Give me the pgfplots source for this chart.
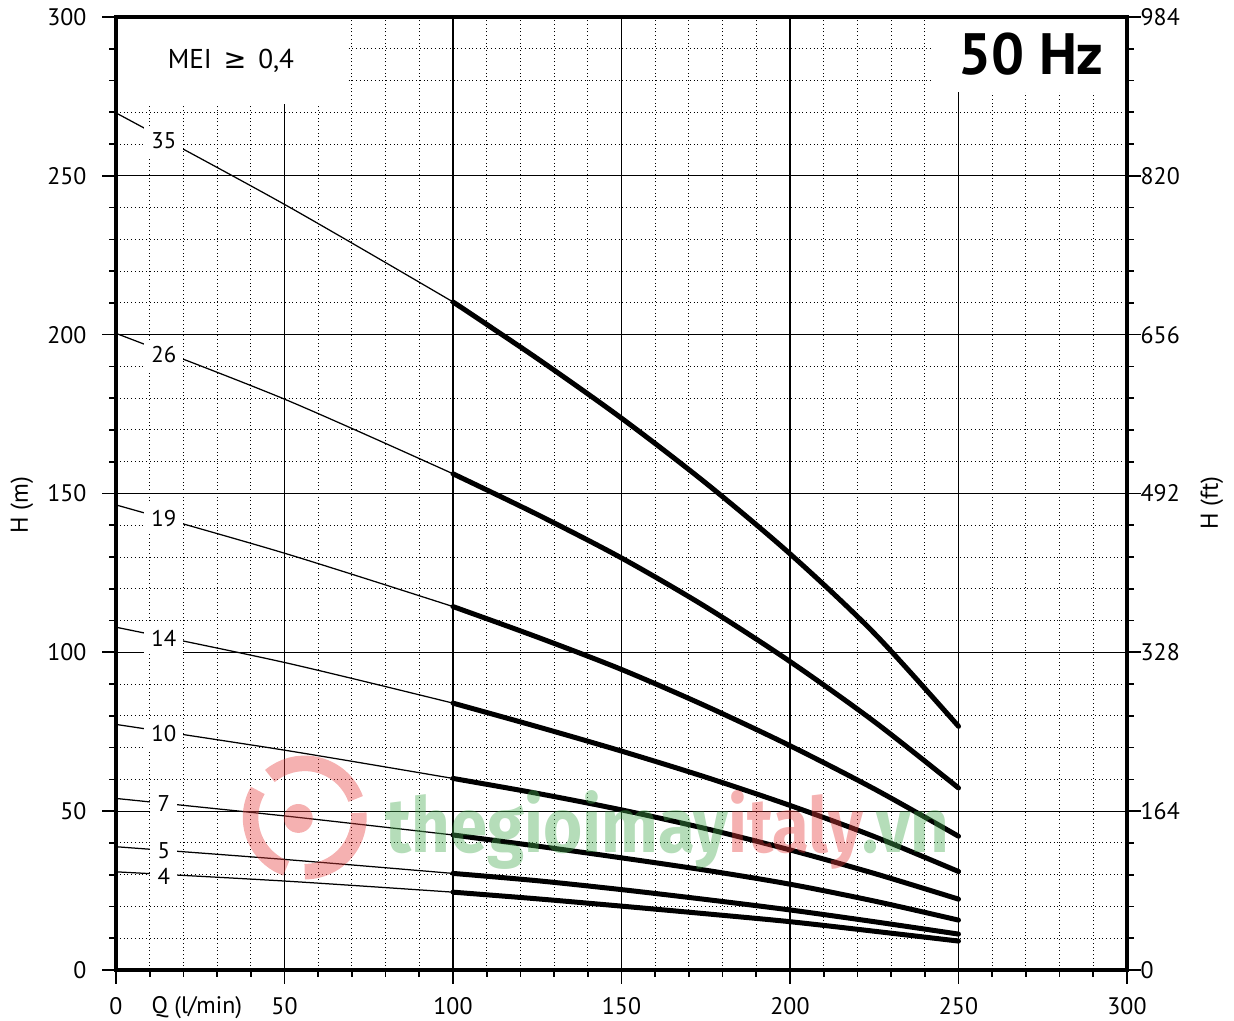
\documentclass[border=0pt]{standalone}
\usepackage{pgfplots}
\pgfplotsset{compat=1.18}
\usepackage{fontspec}
\setmainfont{PT Sans}
\newfontfamily\symfont{DejaVu Sans}
\newfontfamily\wmfont{Fira Sans}
\definecolor{wmgreen}{RGB}{70,170,80}
\definecolor{wmred}{RGB}{230,60,60}
\begin{document}
\begin{tikzpicture}
\pgfplotsset{
  base/.style={
    scale only axis, width=363.96pt, height=343.08pt,
    xmin=0, xmax=300, ymin=0, ymax=300,
    tick align=outside,
    major tick length=5pt, minor tick length=2.5pt,
    tick style={black, line width=0.6pt},
    axis line style={line width=1.2pt},
    tick label style={font=\fontsize{8.6}{10}\selectfont},
    /pgf/number format/assume math mode=true,
  },
}
\begin{axis}[
  base, name=ax,
  xtick={0,50,...,300}, ytick={0,50,...,300},
  minor x tick num=4, minor y tick num=4,
  tick pos=left,
  grid=both,
  major grid style={black, line width=0.4pt},
  minor grid style={black, line width=0.35pt, densely dotted},
  xticklabel style={anchor=base, yshift=-11pt},
  yticklabel style={anchor=east, xshift=-2.1pt},
  clip=false,
]
% white boxes over the grid
\fill[white] ([xshift=0.65pt]axis cs:0,272.6) rectangle ([yshift=-0.65pt]axis cs:68.5,300);
\fill[white] (axis cs:241.8,276.4) rectangle ([xshift=-0.65pt,yshift=-0.65pt]axis cs:300,300);

% thin extensions (0-100)
\addplot[black, line width=0.45pt, smooth] coordinates {(0,269.8) (50,241.0) (100,210.3)};
\addplot[black, line width=0.45pt, smooth] coordinates {(0,200.4) (50,179.7) (100,156.2)};
\addplot[black, line width=0.45pt, smooth] coordinates {(0,146.4) (50,131.2) (100,114.4)};
\addplot[black, line width=0.45pt, smooth] coordinates {(0,107.9) (50,96.8) (100,84.0)};
\addplot[black, line width=0.45pt, smooth] coordinates {(0,77.3) (50,69.2) (100,60.3)};
\addplot[black, line width=0.45pt, smooth] coordinates {(0,54.0) (50,48.5) (100,42.5)};
\addplot[black, line width=0.45pt, smooth] coordinates {(0,38.8) (50,34.8) (100,30.4)};
\addplot[black, line width=0.45pt, smooth] coordinates {(0,30.9) (50,28.0) (100,24.5)};

% thick curves (100-250)
\addplot[black, line width=1.8pt, line cap=round, smooth] coordinates {(100,210.3) (125,192.5) (150,173.7) (175,153.3) (200,131.0) (225,106.0) (250,76.7)};
\addplot[black, line width=1.8pt, line cap=round, smooth] coordinates {(100,156.2) (125,143.4) (150,129.7) (175,114.3) (200,97.1) (225,78.2) (250,57.3)};
\addplot[black, line width=1.8pt, line cap=round, smooth] coordinates {(100,114.4) (125,104.8) (150,94.6) (175,83.1) (200,70.6) (225,57.0) (250,42.1)};
\addplot[black, line width=1.8pt, line cap=round, smooth] coordinates {(100,84.0) (125,76.6) (150,68.9) (175,60.7) (200,51.8) (225,42.0) (250,31.0)};
\addplot[black, line width=1.8pt, line cap=round, smooth] coordinates {(100,60.3) (125,55.6) (150,50.4) (175,44.5) (200,37.8) (225,30.4) (250,22.3)};
\addplot[black, line width=1.8pt, line cap=round, smooth] coordinates {(100,42.5) (125,39.0) (150,35.3) (175,31.4) (200,27.0) (225,21.7) (250,15.7)};
\addplot[black, line width=1.8pt, line cap=round, smooth] coordinates {(100,30.4) (125,28.1) (150,25.3) (175,22.2) (200,18.9) (225,15.2) (250,11.3)};
\addplot[black, line width=1.8pt, line cap=round, smooth] coordinates {(100,24.5) (125,22.4) (150,20.1) (175,17.7) (200,15.2) (225,12.2) (250,9.1)};

% curve labels
\tikzset{clab/.style={fill=white, inner xsep=2.6pt, inner ysep=2.4pt, font=\fontsize{8.2}{9}\selectfont}}
\node[clab] at (axis cs:14.2,261) {35};
\node[clab] at (axis cs:14.2,193.6) {26};
\node[clab] at (axis cs:14.2,142) {19};
\node[clab] at (axis cs:14.2,104.5) {14};
\node[clab] at (axis cs:14.2,74.3) {10};
\node[clab] at (axis cs:14.2,52.3) {7};
\node[clab] at (axis cs:14.2,37.5) {5};
\node[clab] at (axis cs:14.2,29.6) {4};

% header texts
\node[font=\fontsize{9.8}{11}\selectfont] at (axis cs:34.1,286.1) {MEI\, {\symfont ≥}\, 0,4};
\node[font=\fontsize{21}{24}\selectfont\bfseries] at (axis cs:271.5,288.3) {50 Hz};

% axis labels
\node[rotate=90, font=\fontsize{8.8}{10}\selectfont] at (rel axis cs:-0.093,0.488) {H (m)};
\node[rotate=90, font=\fontsize{8.8}{10}\selectfont] at (rel axis cs:1.084,0.49) {H (ft)};
\node[anchor=base, font=\fontsize{8.6}{10}\selectfont] at ([yshift=-15.5pt]axis cs:24,0) {Q (l/min)};

% watermark
\begin{scope}[opacity=0.4]
\draw[wmred, line width=5.6pt] (axis cs:56,48) ++(20:19.5pt) arc (20:130:19.5pt);
\draw[wmred, line width=5.6pt] (axis cs:56,48) ++(150:19.5pt) arc (150:250:19.5pt);
\draw[wmred, line width=5.6pt] (axis cs:56,48) ++(270:19.5pt) arc (270:365:19.5pt);
\fill[wmred] (axis cs:54.1,47.7) circle (5.2pt);
\node[anchor=base west, inner sep=0pt] at (axis cs:79.8,37.1)
  {\resizebox{203pt}{22.3pt}{\wmfont\bfseries\textcolor{wmgreen}{thegioimay}\textcolor{wmred}{italy}\textcolor{wmgreen}{.vn}}};
\end{scope}
\end{axis}

\begin{axis}[
  base,
  axis x line=none, axis y line*=right,
  ytick={0,50,...,300},
  yticklabels={0,164,328,492,656,820,984},
  minor y tick num=4,
  yticklabel style={anchor=west, xshift=-3.6pt},
]
\end{axis}

\pgfresetboundingbox
\path ([xshift=-41.76pt,yshift=-18.36pt]ax.south west) rectangle ([xshift=38.52pt,yshift=6.12pt]ax.north east);
\end{tikzpicture}
\end{document}
